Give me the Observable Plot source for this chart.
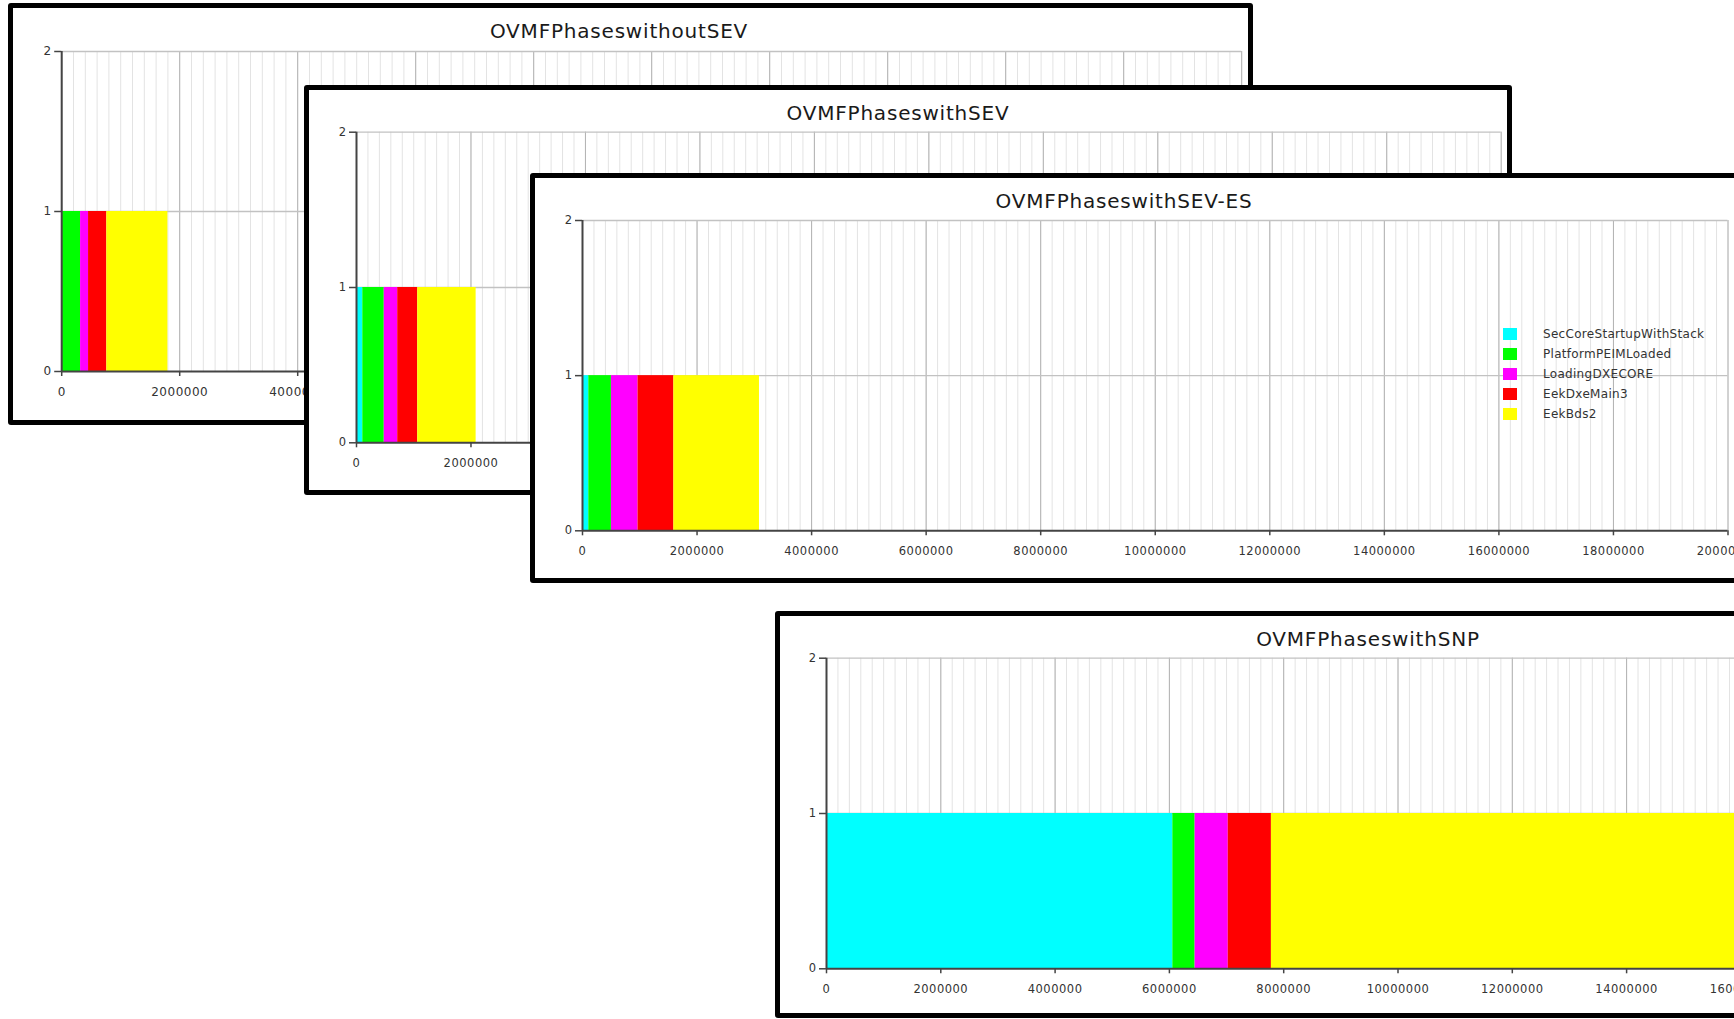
<!DOCTYPE html>
<html>
<head>
<meta charset="utf-8">
<script src="https://cdn.jsdelivr.net/npm/d3@7"></script>
<script src="https://cdn.jsdelivr.net/npm/@observablehq/plot@0.6"></script>
<style>
html, body { margin: 0; padding: 0; background: #fff; }
#root { position: relative; width: 1734px; height: 1019px; overflow: hidden; background: #fff; font-family: "DejaVu Sans", sans-serif; }
.win { position: absolute; box-sizing: border-box; border: 5px solid #000; background: #fff; border-radius: 3px; }
.win svg { position: absolute; left: 0; top: 0; overflow: visible; }
.title { position: absolute; width: 600px; text-align: center; font-size: 20px; line-height: 20px; letter-spacing: 0.8px; color: #1a1a1a; white-space: nowrap; }
.legend { position: absolute; font-size: 12px; letter-spacing: 0.3px; color: #333; }
.legend .row { position: absolute; height: 12px; white-space: nowrap; }
.legend .sw { position: absolute; left: 0; top: 0; width: 13.5px; height: 12.3px; }
.legend .lb { position: absolute; left: 40px; top: 0; line-height: 12.3px; }
</style>
</head>
<body>
<div id="root"></div>
<script>
// ---- data ----
const phases = ["SecCoreStartupWithStack", "PlatformPEIMLoaded", "LoadingDXECORE", "EekDxeMain3", "EekBds2"];
const phaseColors = ["#00ffff", "#00ff00", "#ff00ff", "#ff0000", "#ffff00"];

const chartTitles = ["OVMFPhaseswithoutSEV", "OVMFPhaseswithSEV", "OVMFPhaseswithSEV-ES", "OVMFPhaseswithSNP"];

// end time of each phase (cumulative, same order as phases)
const endsWithoutSEV = [0, 320000, 455000, 765000, 1800000];
const endsWithSEV    = [110000, 485000, 720000, 1070000, 2090000];
const endsWithSEVES  = [110000, 505000, 970000, 1595000, 3090000];
const endsWithSNP    = [6060000, 6450000, 7030000, 7785000, 17000000];

const xTicks = [0, 2000000, 4000000, 6000000, 8000000, 10000000, 12000000, 14000000, 16000000, 18000000, 20000000];
const yTicks = [0, 1, 2];
const xMax = 20000000;
const xMinorStep = 200000;

// ---- layout of the four overlapping windows ----
const windows = [
  {title: chartTitles[0], ends: endsWithoutSEV, left: 8,   top: 3,   W: 1245, H: 422, pL: 53.2, pT: 48,   pW: 1180,   pH: 320,   titleC: 611, font: 12,   legend: false},
  {title: chartTitles[1], ends: endsWithSEV,    left: 304, top: 85,  W: 1208, H: 410, pL: 52,   pT: 46.7, pW: 1144.7, pH: 310.6, titleC: 594, font: 11.5, legend: false},
  {title: chartTitles[2], ends: endsWithSEVES,  left: 530, top: 173, W: 1210, H: 410, pL: 52,   pT: 47,   pW: 1145.5, pH: 310.3, titleC: 594, font: 11.5, legend: true},
  {title: chartTitles[3], ends: endsWithSNP,    left: 775, top: 611, W: 1206, H: 407, pL: 51,   pT: 46.7, pW: 1143,   pH: 310.6, titleC: 593, font: 11.5, legend: false}
];

const minorTicks = d3.range(0, xMax + 1, xMinorStep);
const B = 5; // border width

const root = document.getElementById("root");

windows.forEach((w, i) => {
  const div = document.createElement("div");
  div.className = "win";
  Object.assign(div.style, {left: w.left + "px", top: w.top + "px", width: w.W + "px", height: w.H + "px", zIndex: String(i + 1)});

  const rows = phases.map((p, k) => ({
    phase: p,
    start: k === 0 ? 0 : w.ends[k - 1],
    end: w.ends[k]
  }));

  const innerW = w.W - 2 * B, innerH = w.H - 2 * B;
  const mL = w.pL - B, mT = w.pT - B;
  const mR = innerW - mL - w.pW, mB = innerH - mT - w.pH;

  const chart = Plot.plot({
    width: innerW,
    height: innerH,
    marginLeft: mL,
    marginTop: mT,
    marginRight: mR,
    marginBottom: mB,
    style: {fontFamily: "DejaVu Sans", fontSize: w.font + "px", color: "#333", background: "transparent", letterSpacing: "0.5px", overflow: "visible"},
    x: {domain: [0, xMax]},
    y: {domain: [0, 2]},
    color: {domain: phases, range: phaseColors},
    marks: [
      Plot.gridX(minorTicks, {stroke: "#e3e3e3", strokeOpacity: 1}),
      Plot.gridX(xTicks, {stroke: "#b2b2b2", strokeOpacity: 1}),
      Plot.gridY([1, 2], {stroke: "#c2c2c2", strokeOpacity: 1, strokeWidth: 1.3}),
      Plot.rect(rows, {x1: "start", x2: "end", y1: 0, y2: 1, fill: "phase"}),
      Plot.ruleX([0], {stroke: "#444", strokeWidth: 2}),
      Plot.ruleY([0], {stroke: "#444", strokeWidth: 2}),
      Plot.axisX(xTicks, {tickSize: 5, tickPadding: 11, tickFormat: d => String(d), stroke: "#444", strokeWidth: 1.5}),
      Plot.axisY(yTicks, {tickSize: 7, tickPadding: 3, tickFormat: d => String(d), stroke: "#444", strokeWidth: 1.5})
    ]
  });
  div.appendChild(chart);

  const t = document.createElement("div");
  t.className = "title";
  t.textContent = w.title;
  Object.assign(t.style, {left: (w.titleC - B - 300) + "px", top: "13px"});
  div.appendChild(t);

  if (w.legend) {
    const lg = document.createElement("div");
    lg.className = "legend";
    Object.assign(lg.style, {left: "968px", top: "149.7px"});
    phases.forEach((p, k) => {
      const r = document.createElement("div");
      r.className = "row";
      r.style.top = (k * 20) + "px";
      const sw = document.createElement("div");
      sw.className = "sw";
      sw.style.background = phaseColors[k];
      const lb = document.createElement("div");
      lb.className = "lb";
      lb.textContent = p;
      r.appendChild(sw);
      r.appendChild(lb);
      lg.appendChild(r);
    });
    div.appendChild(lg);
  }

  root.appendChild(div);
});
</script>
</body>
</html>
